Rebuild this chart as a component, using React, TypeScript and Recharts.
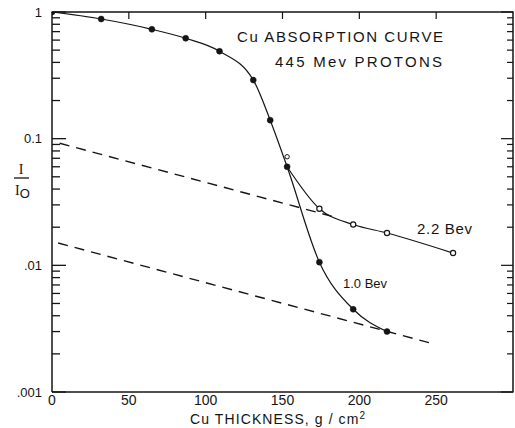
import React from "react";
import { ComposedChart, Line, Scatter, XAxis, YAxis } from "recharts";

// main absorption curve (filled points, 1.0 Bev branch)
const mainX = [0, 32, 65, 87, 109, 131, 142, 153, 174, 196, 218];
const mainY = [1, 0.88, 0.73, 0.62, 0.49, 0.29, 0.14, 0.06, 0.0106, 0.0045, 0.003];

// 2.2 Bev branch (open points)
const bevX = [153, 174, 196, 218, 261];
const bevY = [0.06, 0.028, 0.021, 0.018, 0.0125];

// odd open marker just above the 153 point
const crossX = [153];
const crossY = [0.072];

// dashed extrapolations
const upperDashX = [5, 186];
const upperDashY = [0.092, 0.0237];
const lowerDashX = [4, 246];
const lowerDashY = [0.015, 0.00244];

const xTicks = [0, 50, 100, 150, 200, 250];
const topTicks = [50, 100, 150, 200, 250];
const yMajor = [0.001, 0.01, 0.1, 1];
const yMajorLabels = [".001", ".01", "0.1", "1"];
const yMinor = yMajor.slice(0, 3).flatMap((d) => [2, 3, 4, 5, 6, 7, 8, 9].map((k) => k * d));
const yTicks = [...yMajor, ...yMinor].sort((a, b) => a - b);

const X_MAX = 300;

// chart box
const W = 515;
const H = 428;
const M = { top: 12, right: 2, bottom: 6, left: 0 };
const Y_AXIS_W = 52;
const X_AXIS_H = 30;
const PL = M.left + Y_AXIS_W;
const PR = W - M.right;
const PT = M.top;
const PB = H - M.bottom - X_AXIS_H;

const zip = (xs: number[], ys: number[]) => xs.map((x, i) => ({ x, y: ys[i] }));

const INK = "#151515";
const FONT = "'Liberation Sans', Arial, sans-serif";

const majorIndex = (v: number) => yMajor.findIndex((m) => Math.abs(m - v) < 1e-9);

// same mapping as the axes (log y over 3 decades, linear x) for the frame ticks
const yPix = (v: number) => PT + (-Math.log10(v) / 3) * (PB - PT);
const xPix = (t: number) => PL + (t / X_MAX) * (PR - PL);

const leftTick = (props: any) => {
  const i = majorIndex(Number(props.payload.value));
  if (i < 0) return <g key={`lt${props.index}`} />;
  return (
    <text key={`lt${props.index}`} x={props.x} y={props.y} dy="0.35em" textAnchor="end" fontSize={13} fontFamily={FONT} fill={INK}>
      {yMajorLabels[i]}
    </text>
  );
};

const OpenDot = (props: any) => {
  const { cx, cy, index } = props;
  if (index === 0 || cx == null) return <g key={`o${index}`} />;
  return <circle key={`o${index}`} cx={cx} cy={cy} r={2.6} fill="#fff" stroke={INK} strokeWidth={1.2} />;
};

// frame + inward ticks as an overlay svg on top of the chart
const FrameOverlay = () => (
  <svg
    width={W}
    height={H}
    style={{ position: "absolute", left: 0, top: 0, pointerEvents: "none" }}
  >
    <rect x={PL - 0.5} y={PT - 0.75} width={PR - PL + 0.75} height={1.5} fill={INK} />
    <rect x={PR - 0.75} y={PT - 0.5} width={1.5} height={PB - PT + 1} fill={INK} />
    {yTicks.map((v) => (
      <rect key={`yl${v}`} x={PL} y={yPix(v) - 0.65} width={majorIndex(v) >= 0 ? 14 : 8} height={1.3} fill={INK} />
    ))}
    {yTicks.map((v) => {
      const len = majorIndex(v) >= 0 ? 12 : 6;
      return <rect key={`yr${v}`} x={PR - len} y={yPix(v) - 0.6} width={len} height={1.2} fill={INK} />;
    })}
    {topTicks.map((t) => (
      <rect key={`xt${t}`} x={xPix(t) - 0.6} y={PT} width={1.2} height={7} fill={INK} />
    ))}
  </svg>
);

export default function App() {
  return (
    <div style={{ position: "absolute", left: 0, top: 0, width: W, height: H, background: "#fff" }}>
      <ComposedChart width={W} height={H} margin={M}>
        <XAxis
          dataKey="x"
          type="number"
          domain={[0, X_MAX]}
          ticks={xTicks}
          interval={0}
          height={X_AXIS_H}
          tickSize={0}
          tickMargin={3}
          tickLine={false}
          axisLine={{ stroke: INK, strokeWidth: 1.5 }}
          tick={{ fill: INK, fontSize: 14, fontFamily: FONT }}
          allowDataOverflow
        />
        <YAxis
          dataKey="y"
          type="number"
          scale="log"
          domain={[0.001, 1]}
          ticks={yTicks}
          interval={0}
          width={Y_AXIS_W}
          tickSize={0}
          tickMargin={10}
          tickLine={false}
          axisLine={{ stroke: INK, strokeWidth: 1.5 }}
          tick={leftTick}
          allowDataOverflow
        />

        <Line
          data={zip(upperDashX, upperDashY)}
          dataKey="y"
          type="linear"
          stroke={INK}
          strokeWidth={1.4}
          strokeDasharray="10 7"
          dot={false}
          isAnimationActive={false}
        />
        <Line
          data={zip(lowerDashX, lowerDashY)}
          dataKey="y"
          type="linear"
          stroke={INK}
          strokeWidth={1.4}
          strokeDasharray="10 7"
          dot={false}
          isAnimationActive={false}
        />
        <Line
          data={zip(bevX, bevY)}
          dataKey="y"
          type="monotoneX"
          stroke={INK}
          strokeWidth={1.2}
          dot={<OpenDot />}
          isAnimationActive={false}
        />
        <Line
          data={zip(mainX, mainY)}
          dataKey="y"
          type="monotoneX"
          stroke={INK}
          strokeWidth={1.2}
          dot={{ r: 3, fill: INK, stroke: INK, strokeWidth: 0.5 }}
          isAnimationActive={false}
        />
        <Scatter
          data={zip(crossX, crossY)}
          dataKey="y"
          fill="#fff"
          stroke={INK}
          shape={(p: any) => <circle cx={p.cx} cy={p.cy} r={2.2} fill="#fff" stroke={INK} strokeWidth={1} />}
          isAnimationActive={false}
        />

        <text x={237} y={37} dy="0.35em" fontSize={15} fontFamily={FONT} fill={INK} textLength={206} lengthAdjust="spacing">
          Cu ABSORPTION CURVE
        </text>
        <text x={275} y={62} dy="0.35em" fontSize={15} fontFamily={FONT} fill={INK} textLength={167} lengthAdjust="spacing">
          445 Mev PROTONS
        </text>
        <text x={417} y={229} dy="0.35em" fontSize={15} fontFamily={FONT} fill={INK} textLength={55} lengthAdjust="spacing">
          2.2 Bev
        </text>
        <text x={343} y={283} dy="0.35em" fontSize={13} fontFamily={FONT} fill={INK}>
          1.0 Bev
        </text>
        <text x={190} y={419} dy="0.35em" fontSize={14} fontFamily={FONT} fill={INK} textLength={175} lengthAdjust="spacing">
          Cu THICKNESS, g / cm
          <tspan dy="-0.45em" fontSize={10}>2</tspan>
        </text>
        <text x={21} y={169} dy="0.35em" textAnchor="middle" fontSize={14} fontFamily="'Liberation Serif', serif" fill={INK}>
          I
        </text>
        <line x1={14} x2={29} y1={178} y2={178} stroke={INK} strokeWidth={1.3} />
        <text x={15} y={190} dy="0.35em" fontSize={14} fontFamily="'Liberation Serif', serif" fill={INK}>
          I
          <tspan dy="3" fontFamily={FONT} fontSize={13}>O</tspan>
        </text>
      </ComposedChart>
      <FrameOverlay />
    </div>
  );
}
